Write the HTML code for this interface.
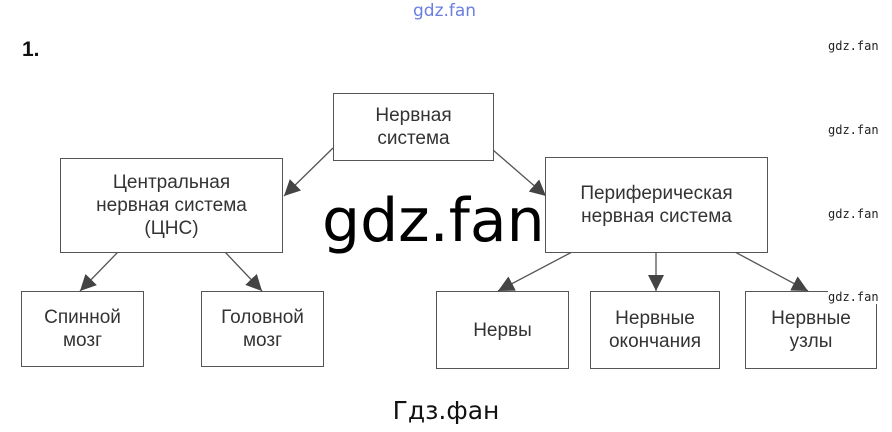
<!DOCTYPE html>
<html><head><meta charset="utf-8"><style>
body{margin:0;width:892px;height:432px;background:#fff;position:relative;overflow:hidden;font-family:"Liberation Sans",sans-serif}
.b{position:absolute;border:1.5px solid #555;box-sizing:border-box;display:flex;align-items:center;justify-content:center;text-align:center;color:#333;font-size:19px;line-height:23px;background:#fff}
.w{position:absolute;font-family:"DejaVu Sans Mono","Liberation Mono",monospace;font-size:12px;color:#222}
</style></head><body>
<div style="position:absolute;left:413px;top:1px;font-size:17px;color:#6a7fe0;font-family:'DejaVu Sans',sans-serif">gdz.fan</div>
<div style="position:absolute;left:22px;top:38px;font-size:21px;font-weight:bold;color:#111">1.</div>
<div class="w" style="left:828px;top:39px">gdz.fan</div>
<div class="w" style="left:828px;top:123px">gdz.fan</div>
<div class="w" style="left:828px;top:207px">gdz.fan</div>
<svg width="892" height="432" style="position:absolute;left:0;top:0">
<defs>
<marker id="m" viewBox="0 0 10 10" markerWidth="16" markerHeight="16" refX="10" refY="5" orient="auto" markerUnits="userSpaceOnUse"><path d="M0,0 L10,5 L0,10z" fill="#444"/></marker></defs>
<g stroke="#555" stroke-width="1.3" marker-end="url(#m)">
<line x1="333" y1="148" x2="284" y2="196"/>
<line x1="493" y1="150" x2="546" y2="196"/>
<line x1="118" y1="252" x2="80" y2="291"/>
<line x1="225" y1="252" x2="262" y2="291"/>
<line x1="572" y1="252" x2="498" y2="291"/>
<line x1="656" y1="252" x2="656" y2="291"/>
<line x1="735" y1="252" x2="808" y2="291"/>
</g></svg>
<div class="b" style="left:333px;top:93px;width:161px;height:68px">Нервная<br>система</div>
<div class="b" style="left:60px;top:158px;width:223px;height:95px">Центральная<br>нервная система<br>(ЦНС)</div>
<div class="b" style="left:545px;top:157px;width:223px;height:96px">Периферическая<br>нервная система</div>
<div class="b" style="left:21px;top:291px;width:123px;height:76px">Спинной<br>мозг</div>
<div class="b" style="left:201px;top:291px;width:123px;height:76px">Головной<br>мозг</div>
<div class="b" style="left:436px;top:291px;width:133px;height:78px">Нервы</div>
<div class="b" style="left:590px;top:291px;width:130px;height:78px">Нервные<br>окончания</div>
<div class="b" style="left:745px;top:291px;width:132px;height:78px">Нервные<br>узлы</div>
<div class="w" style="left:828px;top:290px;background:#fff">gdz.fan</div>
<div style="position:absolute;left:322px;top:186px;font-size:60px;font-family:'DejaVu Sans',sans-serif;color:#000;line-height:70px">gdz.fan</div>
<div style="position:absolute;left:0;width:892px;text-align:center;top:396px;font-size:25px;color:#111;font-family:'DejaVu Sans',sans-serif">Гдз.фан</div>
</body></html>
